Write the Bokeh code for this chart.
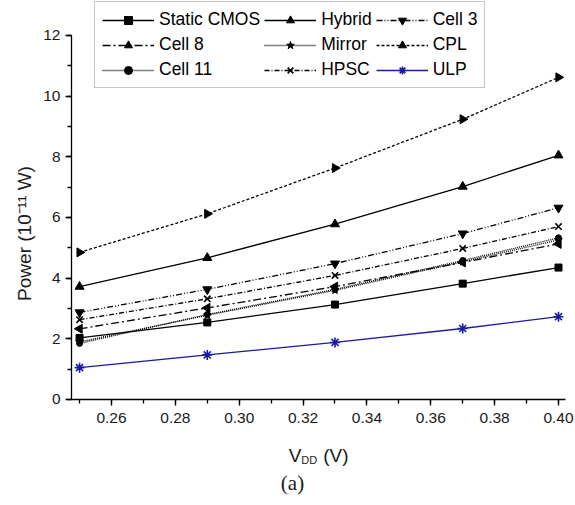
import math
from bokeh.plotting import figure
from bokeh.models import (Range1d, SingleIntervalTicker, NumeralTickFormatter,
                          Legend, LegendItem, Label)
from bokeh.embed import file_html
from bokeh.resources import INLINE

# ---- data ----
vdd = [0.25, 0.29, 0.33, 0.37, 0.40]
static_cmos = [2.03, 2.54, 3.13, 3.82, 4.35]
hybrid = [3.72, 4.67, 5.78, 7.02, 8.05]
cell3 = [2.87, 3.63, 4.48, 5.47, 6.32]
cell8 = [2.33, 3.02, 3.72, 4.52, 5.13]
mirror = [1.90, 2.78, 3.60, 4.54, 5.26]
cpl = [4.85, 6.12, 7.63, 9.24, 10.62]
cell11 = [1.85, 2.80, 3.63, 4.58, 5.33]
hpsc = [2.63, 3.32, 4.09, 4.98, 5.70]
ulp = [1.05, 1.47, 1.88, 2.34, 2.73]

names = ["Static CMOS", "Hybrid", "Cell 3", "Cell 8", "Mirror", "CPL",
         "Cell 11", "HPSC", "ULP"]
series = [static_cmos, hybrid, cell3, cell8, mirror, cpl, cell11, hpsc, ulp]

# axis extents
X_AXIS = (0.247472, 0.402192)
Y_AXIS = (0, 12)

# styles: (dash, marker, angle, size, color)
styles = [
    ("solid", "square", 0, 7, "black"),
    ("solid", "triangle", 0, 9, "black"),
    ("6 2 1 2 1 2", "inverted_triangle", 0, 9, "black"),
    ("8 3 2 3", "triangle", math.pi / 2, 9, "black"),
    ("1 1", "star", 0, 8, "black"),
    ("3 2", "triangle", -math.pi / 2, 9, "black"),
    ("1 1", "circle", 0, 6, "black"),
    ("5 2 1 2", "x", 0, 9, "black"),
    ("solid", "asterisk", 0, 10, "#1a1aa0"),
]

FONT = "Liberation Sans"
W, H = 575, 497

p = figure(width=W, height=H, title=None,
           x_range=Range1d(0.225235, 0.405326),
           y_range=Range1d(-3.2308, 13.1538),
           output_backend="svg", toolbar_location=None,
           min_border_left=0, min_border_right=0,
           min_border_top=0, min_border_bottom=0)
p.background_fill_color = "white"
p.border_fill_color = "white"
p.outline_line_color = None
p.xgrid.visible = False
p.ygrid.visible = False

p.xaxis.ticker = SingleIntervalTicker(interval=0.02, num_minor_ticks=2)
p.xaxis.formatter = NumeralTickFormatter(format="0.00")
p.yaxis.ticker = SingleIntervalTicker(interval=2, num_minor_ticks=2)
p.xaxis.fixed_location = Y_AXIS[0]
p.yaxis.fixed_location = X_AXIS[0]
p.xaxis.bounds = X_AXIS
p.yaxis.bounds = Y_AXIS

for ax in (p.xaxis[0], p.yaxis[0]):
    ax.axis_line_width = 1.3
    ax.axis_line_color = "black"
    ax.major_tick_line_width = 1.3
    ax.major_tick_line_color = "black"
    ax.minor_tick_line_width = 1.3
    ax.minor_tick_line_color = "black"
    ax.major_tick_out = 6
    ax.major_tick_in = 0
    ax.minor_tick_out = 4
    ax.minor_tick_in = 0
    ax.major_label_text_font = FONT
    ax.major_label_text_font_size = "15.5px"
    ax.major_label_text_color = "#1a1a1a"
p.xaxis.major_label_standoff = 8
p.yaxis.major_label_standoff = 5

items = []
for name, vals, (dash, marker, ang, size, color) in zip(names, series, styles):
    lr = p.line(vdd, vals, line_color=color, line_width=1.3, line_dash=dash)
    sr = p.scatter(vdd, vals, marker=marker, size=size, angle=ang,
                   fill_color=color, line_color=color,
                   line_width=1.6 if marker in ("x", "asterisk") else 1)
    items.append(LegendItem(label=name, renderers=[lr, sr]))

legend = Legend(items=items, location=(94, 409), orientation="horizontal",
                ncols=3, glyph_width=52, glyph_height=20, label_height=20,
                label_standoff=5, spacing=4, padding=7, margin=0,
                label_text_font=FONT, label_text_font_size="17.5px",
                label_text_color="black",
                border_line_color="#8c8c8c", border_line_width=1.3,
                background_fill_color="white", background_fill_alpha=1)
p.add_layout(legend, "center")

# axis titles and caption (screen units from the canvas' bottom-left)
def lab(x, y, text, size, font=FONT, angle=0, align="left", baseline="alphabetic"):
    p.add_layout(Label(x=x, y=y, x_units="screen", y_units="screen",
                       text=text, angle=angle, text_align=align,
                       text_baseline=baseline, text_font=font,
                       text_font_size=size, text_color="#1a1a1a"))

lab(24, 264, "Power (10\u207b\u00b9\u00b9 W)", "19px", angle=math.pi / 2,
    align="center", baseline="middle")
lab(288.3, 42, "V", "19px")
lab(300.7, 37.7, "DD", "11px")
lab(322.7, 42, "(V)", "19px")
lab(292, 15, "(a)", "21px", font="Liberation Serif", align="center")

open("out.html", "w").write(file_html(p, INLINE))
